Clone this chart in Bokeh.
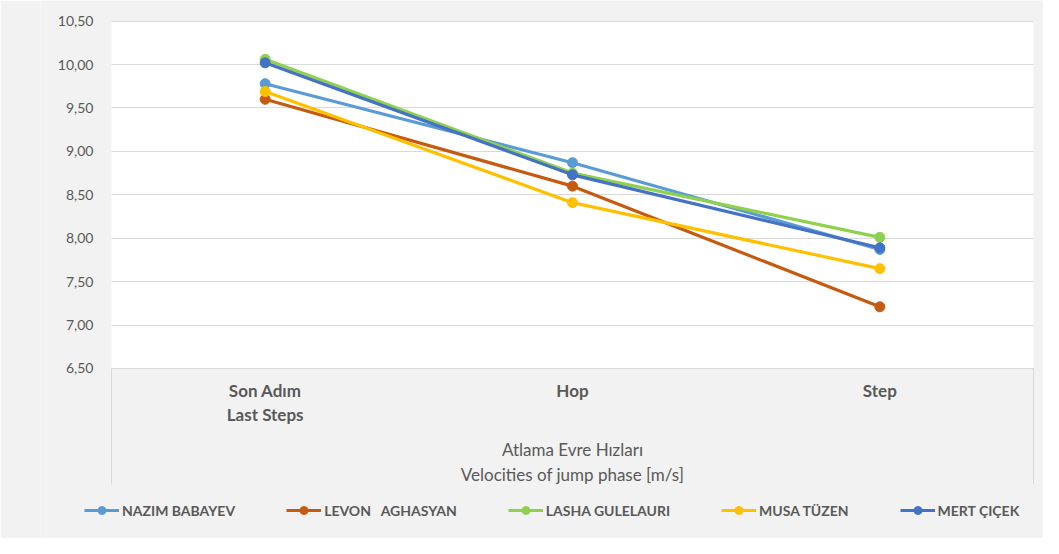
from bokeh.plotting import figure
from bokeh.models import (Range1d, FixedTicker, BoxAnnotation, Legend, LegendItem)
from bokeh.core.properties import value
from bokeh.embed import file_html
from bokeh.resources import INLINE

# ---- data ----
categories = ["Son Adım\nLast Steps", "Hop", "Step"]
axis_title = "Atlama Evre Hızları\nVelocities of jump phase [m/s]"
names = ["NAZIM BABAYEV", "LEVON   AGHASYAN", "LASHA GULELAURI", "MUSA TÜZEN", "MERT ÇIÇEK"]
nazim = [9.78, 8.87, 7.87]
levon = [9.60, 8.60, 7.21]
lasha = [10.06, 8.75, 8.01]
musa = [9.69, 8.41, 7.65]
mert = [10.02, 8.73, 7.89]
y_ticks = [6.5, 7.0, 7.5, 8.0, 8.5, 9.0, 9.5, 10.0, 10.5]
y_tick_labels = ["6,50", "7,00", "7,50", "8,00", "8,50", "9,00", "9,50", "10,00", "10,50"]

series = [nazim, levon, lasha, musa, mert]
colors = ["#5B9BD5", "#C55A11", "#8FD14F", "#FFC000", "#4472C4"]

FONT = "Lato"
TXT = "#595959"
BG = "#F2F2F2"
LINE = "#D9D9D9"

xs = list(range(len(categories)))
x_lo, x_hi = -0.5, len(categories) - 0.5          # data area (category bands)
y_lo, y_hi = y_ticks[0], y_ticks[-1]
box_bottom = 5.164                                  # bottom of the category-label box

p = figure(width=1043, height=538, output_backend="svg", toolbar_location=None,
           x_range=Range1d(-0.7310, 2.5325), y_range=Range1d(4.542, 10.738),
           x_axis_location=None, tools="",
           min_border_left=40, min_border_right=0, min_border_top=0,
           min_border_bottom=0)
p.background_fill_color = BG
p.border_fill_color = BG
p.outline_line_color = None

# white data region
p.add_layout(BoxAnnotation(left=x_lo, right=x_hi, bottom=y_lo, top=y_hi,
                           fill_color="white", fill_alpha=1.0, line_color=None,
                           level="image"))

# y axis drawn at the left edge of the data region
p.yaxis.fixed_location = x_lo
p.yaxis.bounds = (y_lo, y_hi)
p.yaxis.ticker = FixedTicker(ticks=y_ticks)
p.yaxis.major_label_overrides = {t: l for t, l in zip(y_ticks, y_tick_labels)}
p.yaxis.axis_line_color = None
p.yaxis.major_tick_line_color = None
p.yaxis.minor_tick_line_color = None
p.yaxis.major_label_standoff = 12
p.yaxis.major_label_text_font = FONT
p.yaxis.major_label_text_font_size = "14px"
p.yaxis.major_label_text_color = TXT
p.xgrid.visible = False
p.ygrid.ticker = FixedTicker(ticks=y_ticks)
p.ygrid.cross_bounds = (x_lo, x_hi)
p.ygrid.grid_line_color = LINE
p.ygrid.grid_line_width = 1

# side edges of the category-label box
p.segment(x0=[x_lo, x_hi], y0=[box_bottom, box_bottom], x1=[x_lo, x_hi], y1=[y_lo, y_lo],
          line_color=LINE, line_width=1)

# category labels and axis title
p.text(x=xs, y=[y_lo] * len(xs), text=categories, y_offset=12,
       text_align="center", text_baseline="top", text_font=value(FONT),
       text_font_size="17px", text_font_style="bold", text_color=TXT,
       text_line_height=1.12)
p.text(x=[xs[len(xs) // 2]], y=[y_lo], text=[axis_title], y_offset=71,
       text_align="center", text_baseline="top", text_font=value(FONT),
       text_font_size="17px", text_color=TXT, text_line_height=1.15)

items = []
for name, ys, c in zip(names, series, colors):
    l = p.line(xs, ys, line_color=c, line_width=3.2)
    s = p.scatter(xs, ys, size=10, fill_color=c, line_color=c)
    items.append(LegendItem(label=name, renderers=[l, s]))

legend = Legend(items=items, orientation="horizontal", location=(44, 18),
                glyph_width=35, glyph_height=20, label_standoff=3, spacing=51,
                padding=0, margin=0, border_line_color=None, background_fill_alpha=0,
                label_text_font=FONT, label_text_font_size="14px",
                label_text_font_style="bold", label_text_color=TXT)
p.add_layout(legend, "center")

open("out.html", "w").write(file_html(p, INLINE))
